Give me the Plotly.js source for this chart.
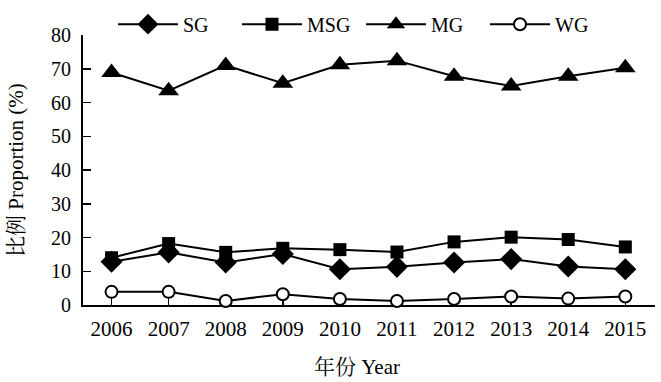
<!DOCTYPE html>
<html><head><meta charset="utf-8">
<script src="https://cdn.plot.ly/plotly-3.0.1.min.js"></script>
<style>body{margin:0;padding:0;background:#fff}#chart{width:661px;height:382px}</style>
</head><body><div id="chart"></div>
<script>
const years = ['2006','2007','2008','2009','2010','2011','2012','2013','2014','2015'];
const SG  = [12.8, 15.6, 12.6, 15.1, 10.6, 11.3, 12.6, 13.6, 11.4, 10.6];
const MSG = [14.0, 18.2, 15.6, 16.8, 16.4, 15.7, 18.7, 20.1, 19.4, 17.2];
const MG  = [68.9, 63.5, 71.0, 65.7, 71.2, 72.4, 67.8, 64.9, 67.8, 70.3];
const WG  = [3.9, 3.9, 1.2, 3.2, 1.8, 1.2, 1.8, 2.5, 1.9, 2.5];
const names = ['SG','MSG','MG','WG'];
const xTitle = '年份 Year';
const yTitle = '比例 Proportion (%)';

const font = 'Liberation Serif, Times New Roman, Noto Serif CJK SC, Noto Sans CJK SC, serif';
function tr(name, y, symbol, size, fill) {
  return {x: years, y: y, name: name, type: 'scatter', mode: 'lines+markers',
    line: {color: '#000', width: 2},
    marker: {symbol: symbol, size: size, color: fill, line: {color: '#000', width: fill === '#fff' ? 2 : 0}},
    cliponaxis: false};
}
const data = [
  tr(names[0], SG, 'diamond', 17, '#000'),
  tr(names[1], MSG, 'square', 13, '#000'),
  tr(names[2], MG, 'triangle-up', 18, '#000'),
  tr(names[3], WG, 'circle', 12, '#fff')
];
const layout = {
  width: 661, height: 382,
  margin: {l: 83, r: 6, t: 35, b: 77, autoexpand: false},
  paper_bgcolor: '#fff', plot_bgcolor: '#fff',
  font: {family: font, size: 20, color: '#000'},
  showlegend: true,
  legend: {orientation: 'h', x: (113 - 83) / 572, xanchor: 'left', y: 1.04, yanchor: 'middle',
    font: {family: font, size: 20, color: '#000'}, itemwidth: 60,
    entrywidth: 49, entrywidthmode: 'pixels', bgcolor: 'rgba(0,0,0,0)'},
  xaxis: {type: 'category', range: [-0.5, 9.52], showline: true, linecolor: '#000', linewidth: 2,
    ticks: 'inside', ticklen: 9, tickwidth: 1.5, tickcolor: '#000', showgrid: false, zeroline: false,
    layer: 'below traces', tickfont: {family: font, size: 21}, ticklabelstandoff: 4},
  yaxis: {range: [0, 80], dtick: 10, showline: true, linecolor: '#000', linewidth: 2,
    ticks: 'inside', ticklen: 8, tickwidth: 1.5, tickcolor: '#000', showgrid: false, zeroline: false,
    layer: 'below traces', tickfont: {family: font, size: 20}, ticklabelstandoff: 6},
  annotations: [
    {text: xTitle, xref: 'paper', yref: 'paper', x: (357 - 83) / 572, y: (305 - 367) / 270,
     xanchor: 'center', yanchor: 'middle', showarrow: false, font: {family: font, size: 21}},
    {text: yTitle, xref: 'paper', yref: 'paper', x: (16 - 83) / 572, y: 0.5, textangle: -90,
     xanchor: 'center', yanchor: 'middle', showarrow: false, font: {family: font, size: 21}}
  ]
};
Plotly.newPlot('chart', data, layout, {displayModeBar: false, staticPlot: true});
</script></body></html>
